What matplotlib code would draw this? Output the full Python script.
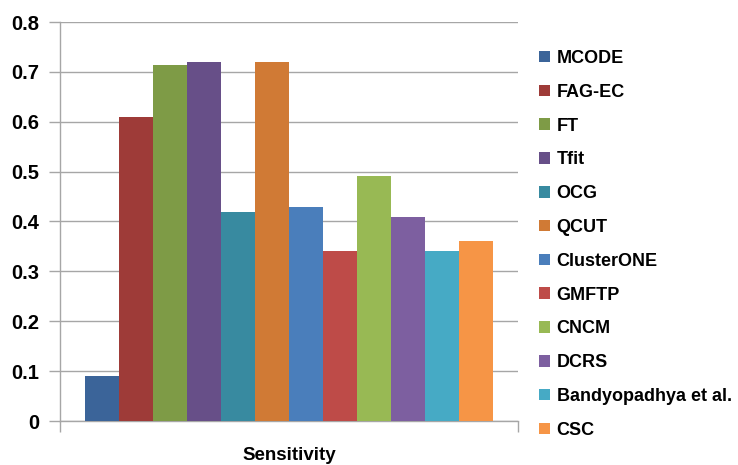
import numpy as np
import matplotlib.pyplot as plt
from matplotlib.patches import Patch

# Sensitivity of each complex detection method
methods = ['MCODE', 'FAG-EC', 'FT', 'Tfit', 'OCG', 'QCUT', 'ClusterONE',
           'GMFTP', 'CNCM', 'DCRS', 'Bandyopadhya et al.', 'CSC']
sensitivity = [0.09, 0.61, 0.713, 0.72, 0.42, 0.72, 0.43,
               0.34, 0.492, 0.41, 0.34, 0.36]
category = 'Sensitivity'
colors = ['#3B6499', '#9E3B38', '#7E9B46', '#674F88', '#388AA0', '#D07A35',
          '#4A7EBB', '#BE4B48', '#98B954', '#7D5FA0', '#46AAC5', '#F69546']
yticks = [0, 0.1, 0.2, 0.3, 0.4, 0.5, 0.6, 0.7, 0.8]
ytick_labels = ['0', '0.1', '0.2', '0.3', '0.4', '0.5', '0.6', '0.7', '0.8']

plt.rcParams['font.family'] = ['Liberation Sans', 'DejaVu Sans']
plt.rcParams['font.weight'] = 'bold'
grid_col = '#A6A6A6'

fig = plt.figure(figsize=(7.38, 4.65), dpi=100)
ax = fig.add_axes([60 / 738, 1 - 421 / 465, 458 / 738, 399 / 465])

n = len(methods)
pos = np.arange(n) - (n - 1) / 2
for p, v, c in zip(pos, sensitivity, colors):
    ax.bar(p, v, width=1.0, color=c, zorder=3)

half = 6.735
ax.set_xlim(-half, half)
ax.set_ylim(0, 0.8)

ax.set_yticks(yticks)
ax.set_yticklabels(ytick_labels, fontsize=14.5, fontweight='bold')
ax.tick_params(axis='y', direction='out', length=8, width=1, color=grid_col, pad=7)
ax.yaxis.grid(True, color=grid_col, linewidth=1, zorder=0)

ax.set_xticks([0])
ax.set_xticklabels([category], fontsize=13.5, fontweight='bold')
ax.tick_params(axis='x', which='major', length=0, pad=19)
ax.set_xticks([-half, half], minor=True)
ax.tick_params(axis='x', which='minor', direction='out', length=8, width=1, color=grid_col)

for s in ['top', 'right']:
    ax.spines[s].set_visible(False)
for s in ['left', 'bottom']:
    ax.spines[s].set_color(grid_col)
    ax.spines[s].set_linewidth(1)

handles = [Patch(facecolor=c, edgecolor='none') for c in colors]
leg = fig.legend(handles, methods, loc='upper left', bbox_to_anchor=(539 / 738, 1 - 50 / 465),
                 frameon=False, fontsize=13, handlelength=0.62, handleheight=0.62,
                 handletextpad=0.35, labelspacing=0.93, borderpad=0, borderaxespad=0)
for t in leg.get_texts():
    t.set_fontweight('bold')

plt.savefig('out.png', dpi=100)
